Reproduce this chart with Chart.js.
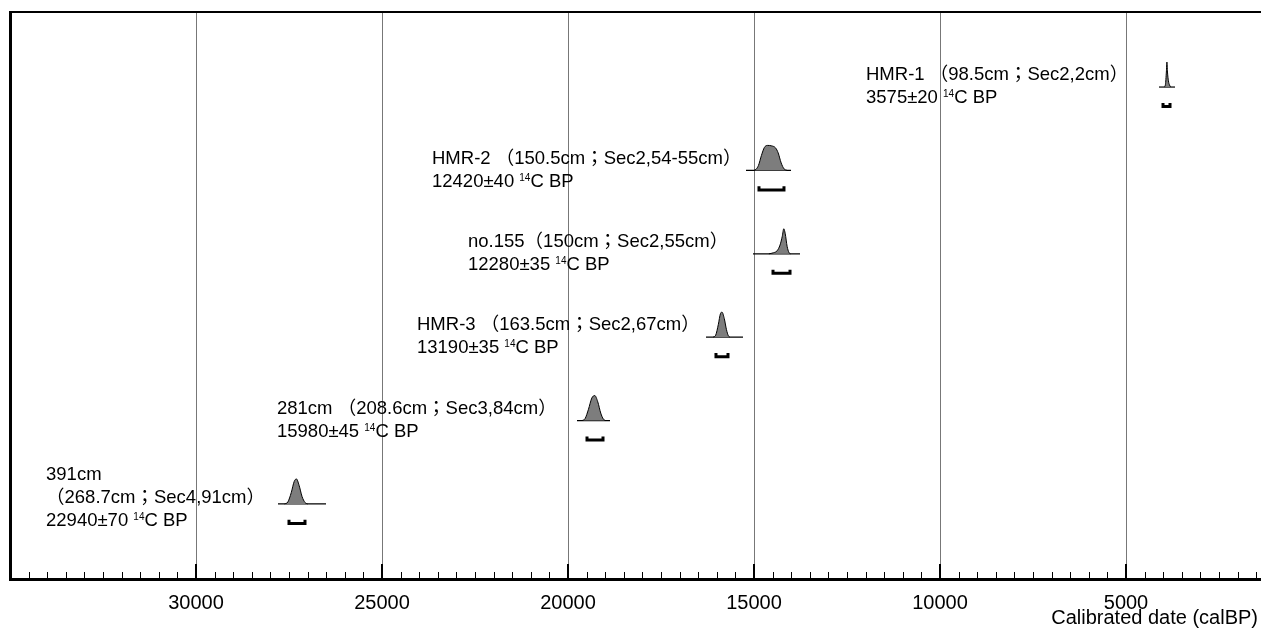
<!DOCTYPE html>
<html>
<head>
<meta charset="utf-8">
<script src="https://cdn.jsdelivr.net/npm/chart.js@4.4.1/dist/chart.umd.min.js"></script>
<style>
  html, body { margin: 0; padding: 0; background: #fff; overflow: hidden; }
</style>
</head>
<body>
<canvas id="chart" width="1261" height="628"></canvas>
<script>
// samples, top to bottom
const sampleNames = ['HMR-1', 'HMR-2', 'no.155', 'HMR-3', '281cm', '391cm'];
const labelLines = [
    ['HMR-1 （98.5cm；Sec2,2cm）'],
    ['HMR-2 （150.5cm；Sec2,54-55cm）'],
    ['no.155（150cm；Sec2,55cm）'],
    ['HMR-3 （163.5cm；Sec2,67cm）'],
    ['281cm （208.6cm；Sec3,84cm）'],
    ['391cm', '（268.7cm；Sec4,91cm）']
];
const c14Ages = ['3575±20', '12420±40', '12280±35', '13190±35', '15980±45', '22940±70'];

// baseline of each probability plot (calBP)
const baseOld = [4113, 15215, 15027, 16290, 19758, 27796];
const baseYoung = [3683, 14005, 13763, 15296, 18871, 26505];

// 2 sigma ranges (calBP)
const rangeOld = [4005, 14866, 14489, 16022, 19489, 27500];
const rangeYoung = [3817, 14194, 14032, 15699, 19059, 27070];

// probability curves [calBP, relative height]
const curveHMR1 = [[3970, 0], [3940, 0.1], [3915, 0.6], [3900, 1.0], [3885, 0.6], [3860, 0.25], [3830, 0.08], [3800, 0]];
const curveHMR2 = [[15000, 0], [14950, 0.04], [14880, 0.2], [14800, 0.6], [14720, 0.92], [14640, 1.0], [14520, 0.98], [14420, 0.9], [14350, 0.7], [14270, 0.3], [14190, 0.06], [14110, 0]];
const curveNo155 = [[14600, 0], [14480, 0.04], [14380, 0.12], [14300, 0.35], [14240, 0.7], [14200, 1.0], [14160, 0.8], [14110, 0.3], [14060, 0.05], [14020, 0]];
const curveHMR3 = [[16100, 0], [16030, 0.08], [15960, 0.5], [15900, 0.95], [15860, 1.0], [15800, 0.75], [15740, 0.3], [15690, 0.06], [15650, 0]];
const curve281 = [[19620, 0], [19540, 0.08], [19450, 0.45], [19360, 0.9], [19280, 1.0], [19200, 0.75], [19120, 0.3], [19050, 0.06], [18990, 0]];
const curve391 = [[27620, 0], [27530, 0.08], [27440, 0.45], [27360, 0.9], [27300, 1.0], [27230, 0.75], [27150, 0.3], [27070, 0.06], [27000, 0]];
const curves = [curveHMR1, curveHMR2, curveNo155, curveHMR3, curve281, curve391];

// where each text block starts (calBP)
const labelX = [11989, 23656, 22688, 24059, 27823, 34032];

const majorTicks = [30000, 25000, 20000, 15000, 10000, 5000];
const axisTitle = 'Calibrated date (calBP)';

const FONT = '"Liberation Sans", Arial, "Noto Sans CJK JP", sans-serif';
const peakHeight = 0.3;
const rowBase = i => (sampleNames.length - 1 - i) + 0.9;

const datasets = [];
sampleNames.forEach((name, i) => {
    const base = rowBase(i);
    datasets.push({
        label: name,
        data: curves[i].map(([v, h]) => ({ x: v, y: base + h * peakHeight })),
        fill: { value: base },
        backgroundColor: '#7d7d7d',
        borderColor: '#000',
        borderWidth: 1,
        pointRadius: 0,
        cubicInterpolationMode: 'monotone'
    });
    datasets.push({
        label: name + ' base',
        data: [{ x: baseOld[i], y: base }, { x: baseYoung[i], y: base }],
        borderColor: '#000',
        borderWidth: 1.2,
        pointRadius: 0,
        fill: false
    });
    datasets.push({
        label: name + ' 2s',
        data: [
            { x: rangeOld[i], y: base - 0.19 },
            { x: rangeOld[i], y: base - 0.234 },
            { x: rangeYoung[i], y: base - 0.234 },
            { x: rangeYoung[i], y: base - 0.19 }
        ],
        borderColor: '#000',
        borderWidth: 3,
        borderJoinStyle: 'miter',
        pointRadius: 0,
        fill: false
    });
});

// small ticks along the axis, top frame line, axis title
const axisTicks = {
    id: 'axisTicks',
    afterDraw(chart) {
        const { ctx, chartArea, scales: { x } } = chart;
        ctx.save();
        ctx.strokeStyle = '#000';
        for (let v = 500; v <= 35000; v += 500) {
            const px = x.getPixelForValue(v);
            if (px < chartArea.left + 2 || px > chartArea.right) continue;
            const major = v % 5000 === 0;
            ctx.lineWidth = major ? 2 : 1;
            const xx = major ? Math.round(px) : Math.round(px) + 0.5;
            ctx.beginPath();
            ctx.moveTo(xx, chartArea.bottom);
            ctx.lineTo(xx, chartArea.bottom - (major ? 15 : 7));
            ctx.stroke();
        }
        ctx.lineWidth = 2;
        ctx.beginPath();
        ctx.moveTo(chartArea.left, chartArea.top);
        ctx.lineTo(chartArea.right, chartArea.top);
        ctx.stroke();

        ctx.fillStyle = '#000';
        ctx.font = '20px ' + FONT;
        ctx.textAlign = 'right';
        ctx.textBaseline = 'middle';
        ctx.fillText(axisTitle, chart.width - 3, chartArea.bottom + 39);
        ctx.restore();
    }
};

// sample texts
const sampleText = {
    id: 'sampleText',
    afterDatasetsDraw(chart) {
        const { ctx, scales: { x, y } } = chart;
        ctx.save();
        ctx.fillStyle = '#000';
        ctx.textBaseline = 'middle';
        ctx.textAlign = 'left';
        sampleNames.forEach((name, i) => {
            const lines = labelLines[i];
            const n = lines.length + 1;
            const left = x.getPixelForValue(labelX[i]);
            const basePx = y.getPixelForValue(rowBase(i));
            let ty = basePx - 12 - (n - 2) * 17;
            ctx.font = '18.5px ' + FONT;
            lines.forEach(line => {
                ctx.fillText(line, left, ty);
                ty += 23;
            });
            // age line with superscript 14
            let cx = left;
            const first = c14Ages[i] + ' ';
            ctx.fillText(first, cx, ty);
            cx += ctx.measureText(first).width;
            ctx.font = '10px ' + FONT;
            ctx.fillText('14', cx, ty - 3.5);
            cx += ctx.measureText('14').width;
            ctx.font = '18.5px ' + FONT;
            ctx.fillText('C BP', cx, ty);
        });
        ctx.restore();
    }
};

new Chart(document.getElementById('chart'), {
    type: 'line',
    data: { datasets },
    options: {
        responsive: false,
        animation: false,
        layout: { padding: { left: 10, top: 12, right: 0, bottom: 0 } },
        plugins: {
            legend: { display: false },
            tooltip: { enabled: false }
        },
        scales: {
            x: {
                type: 'linear',
                reverse: true,
                min: 1371,
                max: 35000,
                afterBuildTicks: s => { s.ticks = majorTicks.map(v => ({ value: v })); },
                afterFit: s => { s.height = 49; },
                ticks: {
                    color: '#000',
                    font: { size: 20, family: FONT },
                    padding: 12,
                    maxRotation: 0,
                    autoSkip: false,
                    callback: v => String(v)
                },
                grid: { color: '#777', lineWidth: 1, drawTicks: false },
                border: { color: '#000', width: 3 }
            },
            y: {
                min: 0,
                max: 6.8,
                ticks: { display: false },
                grid: { display: false, drawTicks: false },
                border: { color: '#000', width: 3 }
            }
        }
    },
    plugins: [axisTicks, sampleText]
});
</script>
</body>
</html>
